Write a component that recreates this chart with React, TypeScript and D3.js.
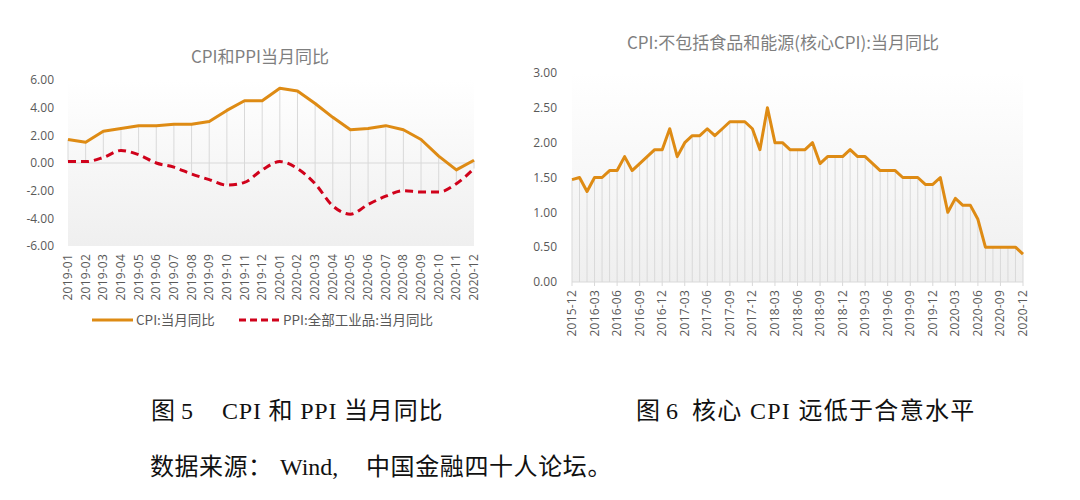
import React from "react";
import * as d3 from "d3";

const leftMonths = [
  "2019-01","2019-02","2019-03","2019-04","2019-05","2019-06","2019-07","2019-08","2019-09","2019-10","2019-11","2019-12",
  "2020-01","2020-02","2020-03","2020-04","2020-05","2020-06","2020-07","2020-08","2020-09","2020-10","2020-11","2020-12",
];
const cpiValues = [1.7,1.5,2.3,2.5,2.7,2.7,2.8,2.8,3.0,3.8,4.5,4.5,5.4,5.2,4.3,3.3,2.4,2.5,2.7,2.4,1.7,0.5,-0.5,0.2];
const ppiValues = [0.1,0.1,0.4,0.9,0.6,0.0,-0.3,-0.8,-1.2,-1.6,-1.4,-0.5,0.1,-0.4,-1.5,-3.1,-3.7,-3.0,-2.4,-2.0,-2.1,-2.1,-1.5,-0.4];
const leftTicks = [6, 4, 2, 0, -2, -4, -6];

const rightMonths = [
  "2015-12",
  "2016-01","2016-02","2016-03","2016-04","2016-05","2016-06","2016-07","2016-08","2016-09","2016-10","2016-11","2016-12",
  "2017-01","2017-02","2017-03","2017-04","2017-05","2017-06","2017-07","2017-08","2017-09","2017-10","2017-11","2017-12",
  "2018-01","2018-02","2018-03","2018-04","2018-05","2018-06","2018-07","2018-08","2018-09","2018-10","2018-11","2018-12",
  "2019-01","2019-02","2019-03","2019-04","2019-05","2019-06","2019-07","2019-08","2019-09","2019-10","2019-11","2019-12",
  "2020-01","2020-02","2020-03","2020-04","2020-05","2020-06","2020-07","2020-08","2020-09","2020-10","2020-11","2020-12",
];
const coreCpiValues = [
  1.47,
  1.5,1.3,1.5,1.5,1.6,1.6,1.8,1.6,1.7,1.8,1.9,1.9,
  2.2,1.8,2.0,2.1,2.1,2.2,2.1,2.2,2.3,2.3,2.3,2.2,
  1.9,2.5,2.0,2.0,1.9,1.9,1.9,2.0,1.7,1.8,1.8,1.8,
  1.9,1.8,1.8,1.7,1.6,1.6,1.6,1.5,1.5,1.5,1.4,1.4,
  1.5,1.0,1.2,1.1,1.1,0.9,0.5,0.5,0.5,0.5,0.5,0.4,
];
const rightTicks = [3, 2.5, 2, 1.5, 1, 0.5, 0];

const leftTitle = "CPI和PPI当月同比";
const rightTitle = "CPI:不包括食品和能源(核心CPI):当月同比";
const legendCpi = "CPI:当月同比";
const legendPpi = "PPI:全部工业品:当月同比";
const caption5 = ["图 5", "CPI 和 PPI 当月同比"];
const caption6 = ["图 6", "核心 CPI 远低于合意水平"];
const source = ["数据来源：", "Wind,", "中国金融四十人论坛。"];

const SANS = "'Open Sans', 'Noto Sans CJK SC', sans-serif";
const CJK = "'Noto Sans CJK SC', 'Open Sans', sans-serif";
const SERIF = "'Liberation Serif', 'Noto Sans CJK SC', serif";
const ORANGE = "#DE8B14";
const RED = "#D0021B";
const GRID = "#D9D9D9";
const LABEL = "#595959";

export default function App() {
  // Left chart scales
  const lx = d3.scalePoint<string>().domain(leftMonths).range([68, 474]);
  const ly = d3.scaleLinear().domain([-6, 6]).range([246, 80]);
  const cpiLine = d3.line<number>().x((_, i) => lx(leftMonths[i])!).y((d) => ly(d));
  const ppiLine = d3.line<number>().x((_, i) => lx(leftMonths[i])!).y((d) => ly(d)).curve(d3.curveMonotoneX);

  // Right chart scales
  const rx = d3.scalePoint<string>().domain(rightMonths).range([572, 1023]);
  const ry = d3.scaleLinear().domain([0, 3]).range([282, 73]);
  const coreLine = d3.line<number>().x((_, i) => rx(rightMonths[i])!).y((d) => ry(d));

  return (
    <svg width={1080} height={500} style={{ display: "block", position: "absolute", left: 0, top: 0, background: "#fff" }}>
      <defs>
        <linearGradient id="bgGrad" x1="0" y1="0" x2="0" y2="1">
          <stop offset="0" stopColor="#ffffff" />
          <stop offset="1" stopColor="#efefef" />
        </linearGradient>
      </defs>

      {/* Left chart */}
      <text x={260} y={63} textAnchor="middle" fontFamily={CJK} fontSize={17} fill="#7F7F7F">{leftTitle}</text>
      <rect x={lx.range()[0]} y={ly(6)} width={lx.range()[1] - lx.range()[0]} height={ly(-6) - ly(6)} fill="url(#bgGrad)" />
      <line x1={lx.range()[0]} x2={lx.range()[1]} y1={ly(0)} y2={ly(0)} stroke={GRID} strokeWidth={1} />
      {leftMonths.map((m, i) => (
        <line key={"hl" + m} x1={lx(m)} x2={lx(m)} y1={ly(Math.max(cpiValues[i], ppiValues[i]))} y2={ly(Math.min(cpiValues[i], ppiValues[i]))} stroke={GRID} strokeWidth={1} />
      ))}
      {leftTicks.map((t) => (
        <text key={"lt" + t} x={54} y={ly(t)} dy="0.35em" textAnchor="end" fontFamily={SANS} fontSize={12} fill={LABEL}>{t.toFixed(2)}</text>
      ))}
      <path d={ppiLine(ppiValues)!} fill="none" stroke={RED} strokeWidth={3} strokeDasharray="8,5" />
      <path d={cpiLine(cpiValues)!} fill="none" stroke={ORANGE} strokeWidth={3} strokeLinejoin="round" />
      {leftMonths.map((m) => (
        <text key={"lx" + m} transform={`translate(${lx(m)! + 4},254) rotate(-90)`} textAnchor="end" fontFamily={SANS} fontSize={12} letterSpacing={0.2} fill={LABEL}>{m}</text>
      ))}
      {/* Legend */}
      <line x1={92} x2={133} y1={320} y2={320} stroke={ORANGE} strokeWidth={3} />
      <text x={136} y={320} dy="0.35em" fontFamily={CJK} fontSize={13.5} fill={LABEL}>{legendCpi}</text>
      <line x1={239} x2={280} y1={320} y2={320} stroke={RED} strokeWidth={3} strokeDasharray="7,4" />
      <text x={283} y={320} dy="0.35em" fontFamily={CJK} fontSize={13.5} fill={LABEL}>{legendPpi}</text>

      {/* Right chart */}
      <text x={783} y={49} textAnchor="middle" fontFamily={CJK} fontSize={17} fill="#7F7F7F">{rightTitle}</text>
      <rect x={rx.range()[0]} y={ry(3)} width={rx.range()[1] - rx.range()[0]} height={ry(0) - ry(3)} fill="url(#bgGrad)" />
      {rightMonths.map((m, i) => (
        <line key={"dl" + m} x1={rx(m)} x2={rx(m)} y1={ry(coreCpiValues[i])} y2={ry(0)} stroke={GRID} strokeWidth={1} />
      ))}
      <line x1={rx.range()[0]} x2={rx.range()[1]} y1={ry(0)} y2={ry(0)} stroke={GRID} strokeWidth={1} />
      {rightMonths.map((m, i) => i % 3 === 0 ? (
        <line key={"tk" + m} x1={rx(m)} x2={rx(m)} y1={ry(0)} y2={ry(0) + 4} stroke={GRID} strokeWidth={1} />
      ) : null)}
      {rightTicks.map((t) => (
        <text key={"rt" + t} x={557} y={ry(t)} dy="0.35em" textAnchor="end" fontFamily={SANS} fontSize={12} fill={LABEL}>{t.toFixed(2)}</text>
      ))}
      <path d={coreLine(coreCpiValues)!} fill="none" stroke={ORANGE} strokeWidth={3} strokeLinejoin="round" />
      {rightMonths.map((m, i) => i % 3 === 0 ? (
        <text key={"rx" + m} transform={`translate(${rx(m)! + 4},290) rotate(-90)`} textAnchor="end" fontFamily={SANS} fontSize={12} letterSpacing={0.2} fill={LABEL}>{m}</text>
      ) : null)}

      {/* Captions */}
      <text y={419} fontFamily={SERIF} fontSize={24} fill="#111">
        <tspan x={151}>{caption5[0]}</tspan>
        <tspan x={222} letterSpacing={0.8}>{caption5[1]}</tspan>
      </text>
      <text y={419} fontFamily={SERIF} fontSize={24} fill="#111">
        <tspan x={636}>{caption6[0]}</tspan>
        <tspan x={692} letterSpacing={1.3}>{caption6[1]}</tspan>
      </text>
      <text y={475} fontFamily={SERIF} fontSize={24} fill="#111">
        <tspan x={150} letterSpacing={0.5}>{source[0]}</tspan>
        <tspan x={280}>{source[1]}</tspan>
        <tspan x={366} letterSpacing={0.6}>{source[2]}</tspan>
      </text>
    </svg>
  );
}
